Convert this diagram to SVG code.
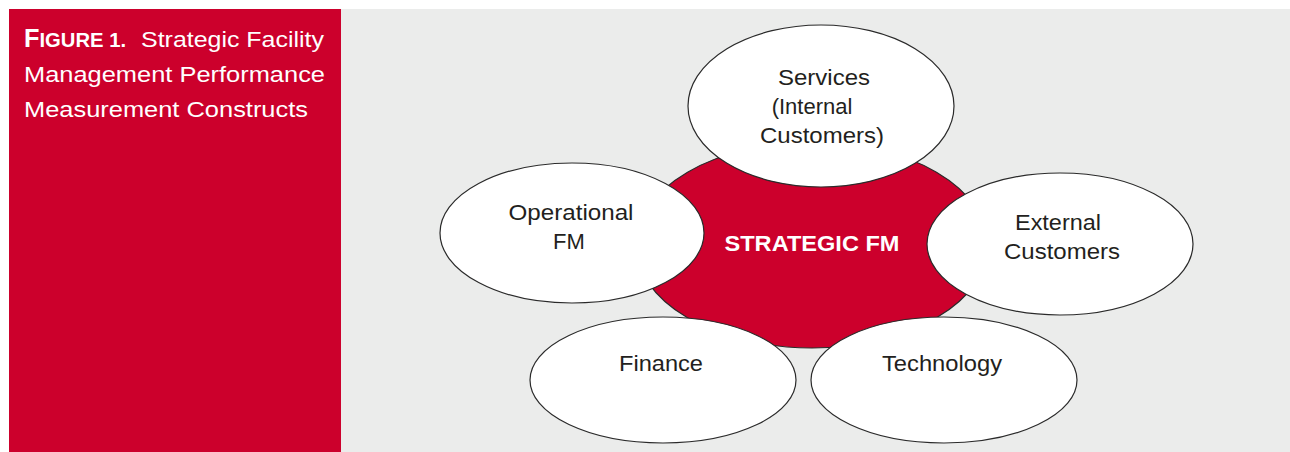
<svg xmlns="http://www.w3.org/2000/svg" width="1290" height="452" viewBox="0 0 1290 452">
<style>
.bub{fill:#ffffff;stroke:#2a2a2a;stroke-width:1.2}
.lbl{font-family:"Liberation Sans",Arial,sans-serif;font-size:22px;fill:#231f20;text-anchor:middle}
.ttl{font-family:"Liberation Sans",Arial,sans-serif;font-size:22px;fill:#ffffff}
</style>
<rect x="0" y="0" width="1290" height="452" fill="#ffffff"/>
<rect x="341" y="9" width="949" height="443" fill="#ebeceb"/>
<rect x="9" y="9" width="332" height="443" fill="#cc002c"/>
<g id="title">
<text class="ttl" x="24" y="47" font-weight="bold" textLength="102" lengthAdjust="spacingAndGlyphs"><tspan font-size="25">F</tspan><tspan font-size="20">IGURE 1.</tspan></text>
<text class="ttl" x="141" y="47" textLength="183" lengthAdjust="spacingAndGlyphs">Strategic Facility</text>
<text class="ttl" x="24" y="82" textLength="301" lengthAdjust="spacingAndGlyphs">Management Performance</text>
<text class="ttl" x="24" y="117" textLength="284" lengthAdjust="spacingAndGlyphs">Measurement Constructs</text>
</g>
<g id="connectors"></g>
<g id="strategic">
<ellipse cx="812" cy="245" rx="176" ry="103" fill="#cc002c" stroke="#2a2a2a" stroke-width="1.2"/>
<text x="812" y="251" font-family="'Liberation Sans',Arial,sans-serif" font-size="22" font-weight="bold" fill="#ffffff" text-anchor="middle" textLength="175" lengthAdjust="spacingAndGlyphs">STRATEGIC FM</text>
</g>
<g id="services">
<ellipse class="bub" cx="821" cy="106" rx="133" ry="81"/>
<text class="lbl" x="824" y="85" textLength="92" lengthAdjust="spacingAndGlyphs">Services</text>
<text class="lbl" x="812" y="114">(Internal</text>
<text class="lbl" x="822" y="143" textLength="124" lengthAdjust="spacingAndGlyphs">Customers)</text>
</g>
<g id="operational">
<ellipse class="bub" cx="572" cy="233" rx="132" ry="70"/>
<text class="lbl" x="571" y="220" textLength="125" lengthAdjust="spacingAndGlyphs">Operational</text>
<text class="lbl" x="569" y="249">FM</text>
</g>
<g id="external">
<ellipse class="bub" cx="1060" cy="244" rx="133" ry="71"/>
<text class="lbl" x="1058" y="230" textLength="86" lengthAdjust="spacingAndGlyphs">External</text>
<text class="lbl" x="1062" y="259" textLength="116" lengthAdjust="spacingAndGlyphs">Customers</text>
</g>
<g id="finance">
<ellipse class="bub" cx="663" cy="380" rx="133" ry="63"/>
<text class="lbl" x="661" y="371" textLength="84" lengthAdjust="spacingAndGlyphs">Finance</text>
</g>
<g id="technology">
<ellipse class="bub" cx="944" cy="380" rx="133" ry="63"/>
<text class="lbl" x="942" y="371" textLength="120" lengthAdjust="spacingAndGlyphs">Technology</text>
</g>
</svg>
